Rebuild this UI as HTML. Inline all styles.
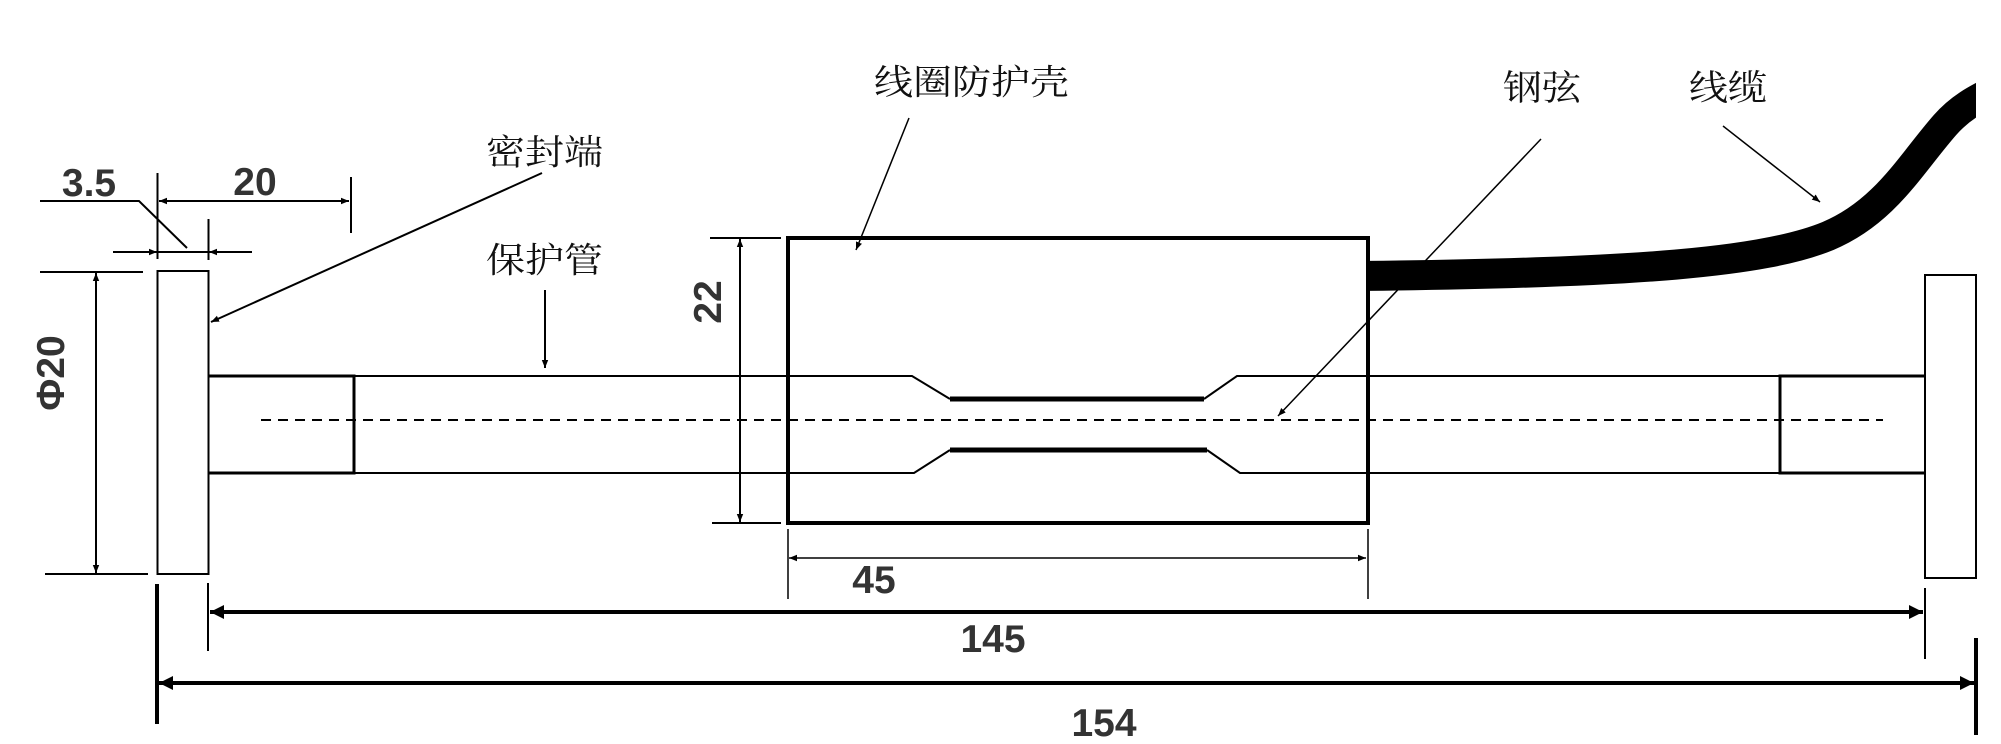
<!DOCTYPE html>
<html><head><meta charset="utf-8"><style>html,body{margin:0;padding:0;background:#fff}svg{display:block}
.c{font-family:"Liberation Serif","Noto Serif CJK SC",serif;font-size:39px;fill:#111}
.n{font-family:"Liberation Sans",sans-serif;font-weight:bold;font-size:39px;fill:#333}
</style></head><body>
<svg width="2001" height="744" viewBox="0 0 2001 744" xmlns="http://www.w3.org/2000/svg">
<defs>
<marker id="a" viewBox="0 0 10 10" refX="10" refY="5" markerWidth="8" markerHeight="8" orient="auto-start-reverse" markerUnits="userSpaceOnUse"><path d="M0,1 L10,5 L0,9 z" fill="#000"/></marker>
<marker id="b" viewBox="0 0 10 10" refX="10" refY="5" markerWidth="16" markerHeight="14" orient="auto-start-reverse" markerUnits="userSpaceOnUse"><path d="M0,0 L10,5 L0,10 z" fill="#000"/></marker>
<clipPath id="cl"><rect x="1368" y="0" width="608" height="400"/></clipPath>
</defs>
<g stroke="#000" fill="none">
<rect x="157.5" y="271" width="51" height="303" stroke-width="2"/>
<rect x="1925" y="275" width="51" height="303" stroke-width="2"/>
<path d="M208 376 H354 V473 H208" stroke-width="3"/>
<path d="M1925 376 H1780 V473 H1925" stroke-width="3"/>
<path d="M354 376 H912 L950 399" stroke-width="2"/>
<path d="M354 473 H914 L950 450" stroke-width="2"/>
<path d="M1780 376 H1237 L1204 399" stroke-width="2"/>
<path d="M1780 473 H1240 L1207 450" stroke-width="2"/>
<path d="M950 399 H1204 M950 450 H1207" stroke-width="5"/>
<path d="M261 420 H1883" stroke-width="2" stroke-dasharray="10 7"/>
<rect x="788" y="238" width="580" height="285" stroke-width="4"/>
<path d="M157.5 173 V259 M208.5 219 V260 M351 177 V233" stroke-width="2"/>
<path d="M113 252 H157" stroke-width="2" marker-end="url(#a)"/>
<path d="M252 252 H209" stroke-width="2" marker-end="url(#a)"/>
<path d="M157.5 252 H208.5" stroke-width="2"/>
<path d="M40 201 H139 L187 248" stroke-width="2"/>
<path d="M159 201 H349" stroke-width="2" marker-start="url(#a)" marker-end="url(#a)"/>
<path d="M40 272 H143 M45 574 H148" stroke-width="2"/>
<path d="M96 273 V573" stroke-width="2" marker-start="url(#a)" marker-end="url(#a)"/>
<path d="M710 238 H781 M712 523 H781" stroke-width="2"/>
<path d="M740 239 V522" stroke-width="2" marker-start="url(#a)" marker-end="url(#a)"/>
<path d="M788 529 V599 M1368 529 V599" stroke-width="1.5"/>
<path d="M789 558 H1366" stroke-width="1.5" marker-start="url(#a)" marker-end="url(#a)"/>
<path d="M208 583 V651 M1925 588 V659" stroke-width="2"/>
<path d="M210 612 H1923" stroke-width="4" marker-start="url(#b)" marker-end="url(#b)"/>
<path d="M157 584 V724 M1976 638 V735" stroke-width="4"/>
<path d="M159 683 H1974" stroke-width="4" marker-start="url(#b)" marker-end="url(#b)"/>
<path d="M542 173 L211 322" stroke-width="2" marker-end="url(#a)"/>
<path d="M545 290 V368" stroke-width="2" marker-end="url(#a)"/>
<path d="M909 118 L856 250" stroke-width="1.5" marker-end="url(#a)"/>
<path d="M1541 139 L1278 416" stroke-width="1.5" marker-end="url(#a)"/>
<path d="M1723 126 L1820 202" stroke-width="1.5" marker-end="url(#a)"/>
<path clip-path="url(#cl)" d="M1360 276 C1640 273 1765 262 1828 236 C1885 212 1910 165 1945 125 C1960 108 1975 100 1995 90" stroke-width="30"/>
</g>
<g class="c">
<text x="874" y="95" transform="translate(0,9) scale(1,0.9)">线圈防护壳</text>
<text x="486" y="165" transform="translate(0,16) scale(1,0.9)">密封端</text>
<text x="486" y="273" transform="translate(0,27) scale(1,0.9)">保护管</text>
<text x="1503" y="100" transform="translate(0,10) scale(1,0.9)">钢弦</text>
<text x="1689" y="100" transform="translate(0,10) scale(1,0.9)">线缆</text>
</g>
<g class="n" text-anchor="middle">
<text x="89" y="196">3.5</text>
<text x="255" y="195">20</text>
<text x="874" y="593">45</text>
<text x="993" y="652">145</text>
<text x="1104" y="736">154</text>
<text transform="translate(64,373) rotate(-90)">Φ20</text>
<text transform="translate(721,302) rotate(-90)">22</text>
</g>
</svg>
</body></html>
